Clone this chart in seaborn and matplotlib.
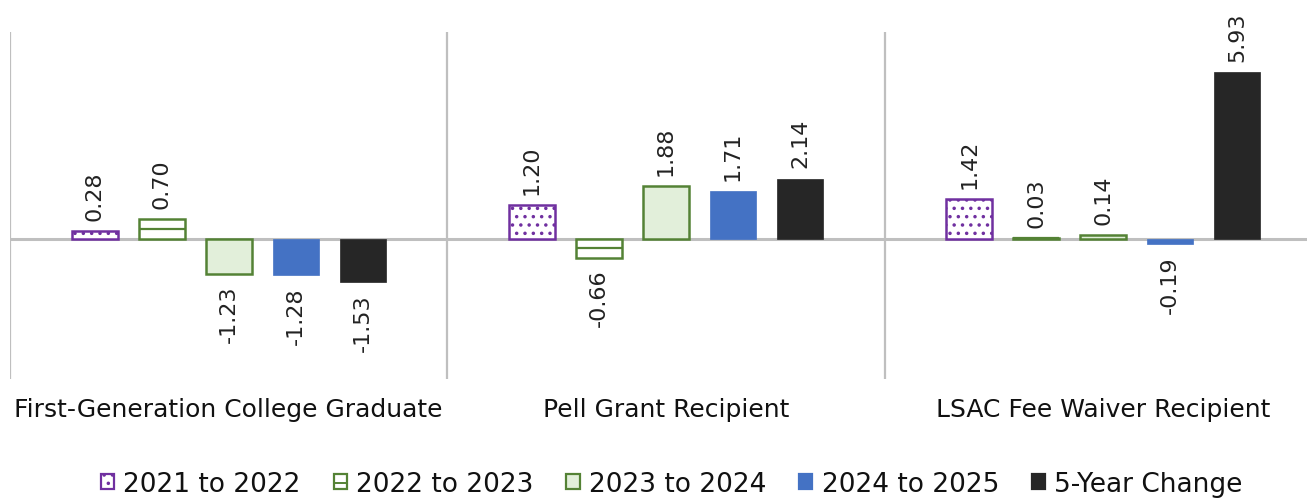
import matplotlib
matplotlib.use("Agg")
import matplotlib.pyplot as plt
from matplotlib.patches import Patch
from matplotlib.lines import Line2D
from matplotlib.legend_handler import HandlerTuple
import seaborn as sns
import pandas as pd

categories = ["First-Generation College Graduate", "Pell Grant Recipient", "LSAC Fee Waiver Recipient"]
series = ["2021 to 2022", "2022 to 2023", "2023 to 2024", "2024 to 2025", "5-Year Change"]
v_2021_2022 = [0.28, 1.20, 1.42]
v_2022_2023 = [0.70, -0.66, 0.03]
v_2023_2024 = [-1.23, 1.88, 0.14]
v_2024_2025 = [-1.28, 1.71, -0.19]
v_5_year = [-1.53, 2.14, 5.93]

values = [v_2021_2022, v_2022_2023, v_2023_2024, v_2024_2025, v_5_year]
df = pd.DataFrame({
    "category": [c for _ in series for c in categories],
    "series": [s for s in series for _ in categories],
    "value": [v for vals in values for v in vals],
})

purple = "#7030A0"
green = "#548235"
light_green = "#E2EFDA"
blue = "#4472C4"
dark = "#262626"
grid_gray = "#BFBFBF"

# face, edge, hatch, middle rule for each series
styles = [
    ("white", purple, "..", False),
    ("white", green, None, True),
    (light_green, green, None, False),
    (blue, blue, None, False),
    (dark, dark, None, False),
]

sns.set_style("white")
plt.rcParams["font.family"] = ["DejaVu Sans"]
plt.rcParams["hatch.linewidth"] = 1.3

fig = plt.figure(figsize=(13.07, 5.02), dpi=100)
ax = fig.add_axes([10 / 1307, 1 - 380 / 502, 1312 / 1307, 347 / 502])

sns.barplot(data=df, x="category", y="value", hue="series", order=categories,
            hue_order=series, width=0.766, gap=0.31, legend=False, ax=ax,
            palette=[s[0] for s in styles], saturation=1)

for container, (face, edge, hatch, rule) in zip(ax.containers, styles):
    for bar in container:
        bar.set_facecolor(face)
        bar.set_edgecolor(edge)
        bar.set_linewidth(1.8 if face in ("white", light_green) else 0.5)
        if hatch:
            bar.set_hatch(hatch)
        if rule:
            # a single rule across the middle of each bar
            mid = bar.get_y() + bar.get_height() / 2
            ax.hlines(mid, bar.get_x(), bar.get_x() + bar.get_width(),
                      color=edge, lw=1.6, zorder=bar.get_zorder() + 0.1)
    ax.bar_label(container, fmt="{:.2f}", rotation=90, padding=8,
                 fontsize=16, color="#222222")

ax.set_ylim(-4.97, 7.34)
ax.set_xlim(-0.5, 2.5)
ax.axhline(0, color=grid_gray, lw=2.2, zorder=0.5)
for xv in [-0.5, 0.5, 1.5, 2.5]:
    ax.axvline(xv, color=grid_gray, lw=1.6, zorder=0.5)

for s in ax.spines.values():
    s.set_visible(False)
ax.set_yticks([])
ax.set_xlabel("")
ax.set_ylabel("")
ax.tick_params(axis="x", length=0, pad=13, labelsize=18, labelcolor="#111111")

handles = []
for face, edge, hatch, rule in styles:
    p = Patch(facecolor=face, edgecolor=edge, hatch=hatch, linewidth=1.6)
    if rule:
        handles.append((p, Line2D([], [], color=edge, lw=1.4)))
    else:
        handles.append(p)
fig.legend(handles, series, loc="center", bbox_to_anchor=(0.514, 1 - 485 / 502),
           ncol=5, frameon=False, fontsize=19, handlelength=0.5, handleheight=0.5,
           handletextpad=0.35, columnspacing=1.25, labelcolor="#111111",
           handler_map={tuple: HandlerTuple(ndivide=1, pad=0)})

fig.savefig("out.png", dpi=100)
